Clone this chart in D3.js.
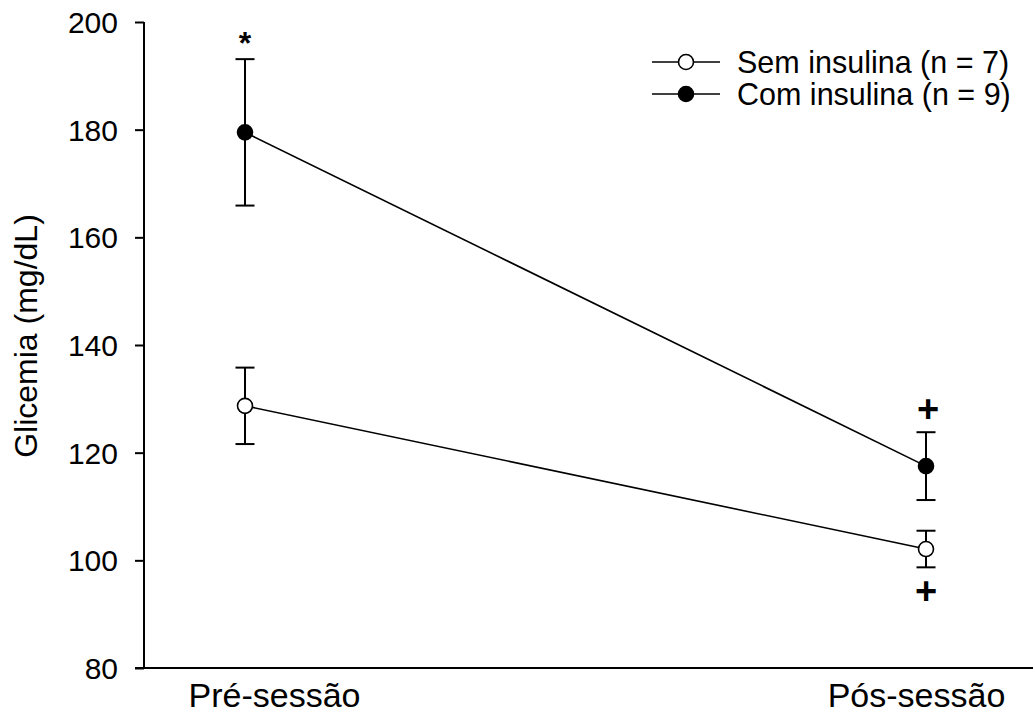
<!DOCTYPE html>
<html>
<head>
<meta charset="utf-8">
<script src="https://cdn.jsdelivr.net/npm/d3@7"></script>
<style>
  body { margin: 0; background: #fff; }
  .chart { width: 1035px; height: 713px; }
  text { font-family: Arial, "Liberation Sans", sans-serif; fill: #000; }
</style>
</head>
<body>
<div class="chart"></div>
<script>
var categories = ["Pré-sessão", "Pós-sessão"];
var seriesNames = ["Sem insulina (n = 7)", "Com insulina (n = 9)"];
var semMean = [128.7, 102.1];
var semErr = [7.1, 3.4];
var comMean = [179.5, 117.5];
var comErr = [13.6, 6.3];
var yTicks = [80, 100, 120, 140, 160, 180, 200];

// annotation marks: series index, category index, symbol, above/below
var marks = [
  {s: 1, c: 0, t: "*", pos: "above"},
  {s: 1, c: 1, t: "+", pos: "above"},
  {s: 0, c: 1, t: "+", pos: "below"}
];

var series = [
  {name: seriesNames[0], mean: semMean, err: semErr, fill: "#fff"},
  {name: seriesNames[1], mean: comMean, err: comErr, fill: "#000"}
];

var svg = d3.select(".chart").append("svg")
    .attr("width", 1035).attr("height", 713);

var x = d3.scalePoint().domain(categories).range([245, 926]),
    y = d3.scaleLinear().domain([80, 200]).range([668, 22]);

// y axis
var yAxis = svg.append("g")
    .attr("transform", "translate(144,0)")
    .call(d3.axisLeft(y).tickValues(yTicks).tickSize(9).tickPadding(17).tickSizeOuter(0));
yAxis.select(".domain").attr("stroke-width", 2).attr("d", "M0,22V669");
yAxis.selectAll(".tick line").attr("stroke-width", 2);
yAxis.selectAll(".tick text").style("font-size", "30px")
    .style("font-family", "Arial, 'Liberation Sans', sans-serif").attr("dy", "0.35em");

// x axis
var xAxis = svg.append("g")
    .attr("transform", "translate(0,668)")
    .call(d3.axisBottom(x).tickSize(0).tickPadding(14));
xAxis.select(".domain").attr("stroke-width", 2).attr("d", "M135,0H1033");
xAxis.selectAll(".tick text").style("font-size", "34px")
    .style("font-family", "Arial, 'Liberation Sans', sans-serif")
    .attr("y", 39).attr("dy", 0)
    .attr("dx", function(d, i) { return i === 0 ? 29 : -10; });

svg.append("text")
    .attr("transform", "translate(37,336) rotate(-90)")
    .attr("text-anchor", "middle")
    .style("font-size", "32px")
    .text("Glicemia (mg/dL)");

var line = d3.line()
    .x(function(d, i) { return x(categories[i]); })
    .y(function(d) { return y(d); });

series.forEach(function(s) {
  var g = svg.append("g");
  g.append("path")
      .attr("d", line(s.mean))
      .attr("fill", "none").attr("stroke", "#000").attr("stroke-width", 1.6);

  s.mean.forEach(function(m, i) {
    var cx = x(categories[i]);
    g.append("line")
        .attr("x1", cx).attr("x2", cx)
        .attr("y1", y(m + s.err[i])).attr("y2", y(m - s.err[i]))
        .attr("stroke", "#000").attr("stroke-width", 2);
    [m + s.err[i], m - s.err[i]].forEach(function(v) {
      g.append("line")
          .attr("x1", cx - 9.5).attr("x2", cx + 9.5)
          .attr("y1", y(v)).attr("y2", y(v))
          .attr("stroke", "#000").attr("stroke-width", 2);
    });
    g.append("circle")
        .attr("cx", cx).attr("cy", y(m)).attr("r", 7.5)
        .attr("fill", s.fill).attr("stroke", "#000").attr("stroke-width", 1.6);
  });
});

// significance marks
marks.forEach(function(mk) {
  var s = series[mk.s],
      m = s.mean[mk.c], e = s.err[mk.c],
      cx = x(categories[mk.c]);
  var t = svg.append("text")
      .attr("text-anchor", "middle")
      .style("font-weight", "bold")
      .text(mk.t);
  if (mk.t === "*") {
    t.attr("x", cx).attr("y", y(m + e) - 23 + 0.57 * 32).style("font-size", "32px");
  } else if (mk.pos === "above") {
    t.attr("x", cx + 2).attr("y", y(m + e) - 23 + 13).style("font-size", "38px");
  } else {
    t.attr("x", cx).attr("y", y(m - e) + 24 + 13).style("font-size", "38px");
  }
});

// legend
var legend = svg.append("g");
series.forEach(function(s, i) {
  var ly = 62 + i * 32;
  legend.append("line")
      .attr("x1", 652).attr("x2", 720).attr("y1", ly).attr("y2", ly)
      .attr("stroke", "#000").attr("stroke-width", 1.6);
  legend.append("circle")
      .attr("cx", 686).attr("cy", ly).attr("r", 7.5)
      .attr("fill", s.fill).attr("stroke", "#000").attr("stroke-width", 1.6);
  legend.append("text")
      .attr("x", 737).attr("y", ly).attr("dy", "0.35em")
      .style("font-size", "30.5px")
      .text(s.name);
});
</script>
</body>
</html>
